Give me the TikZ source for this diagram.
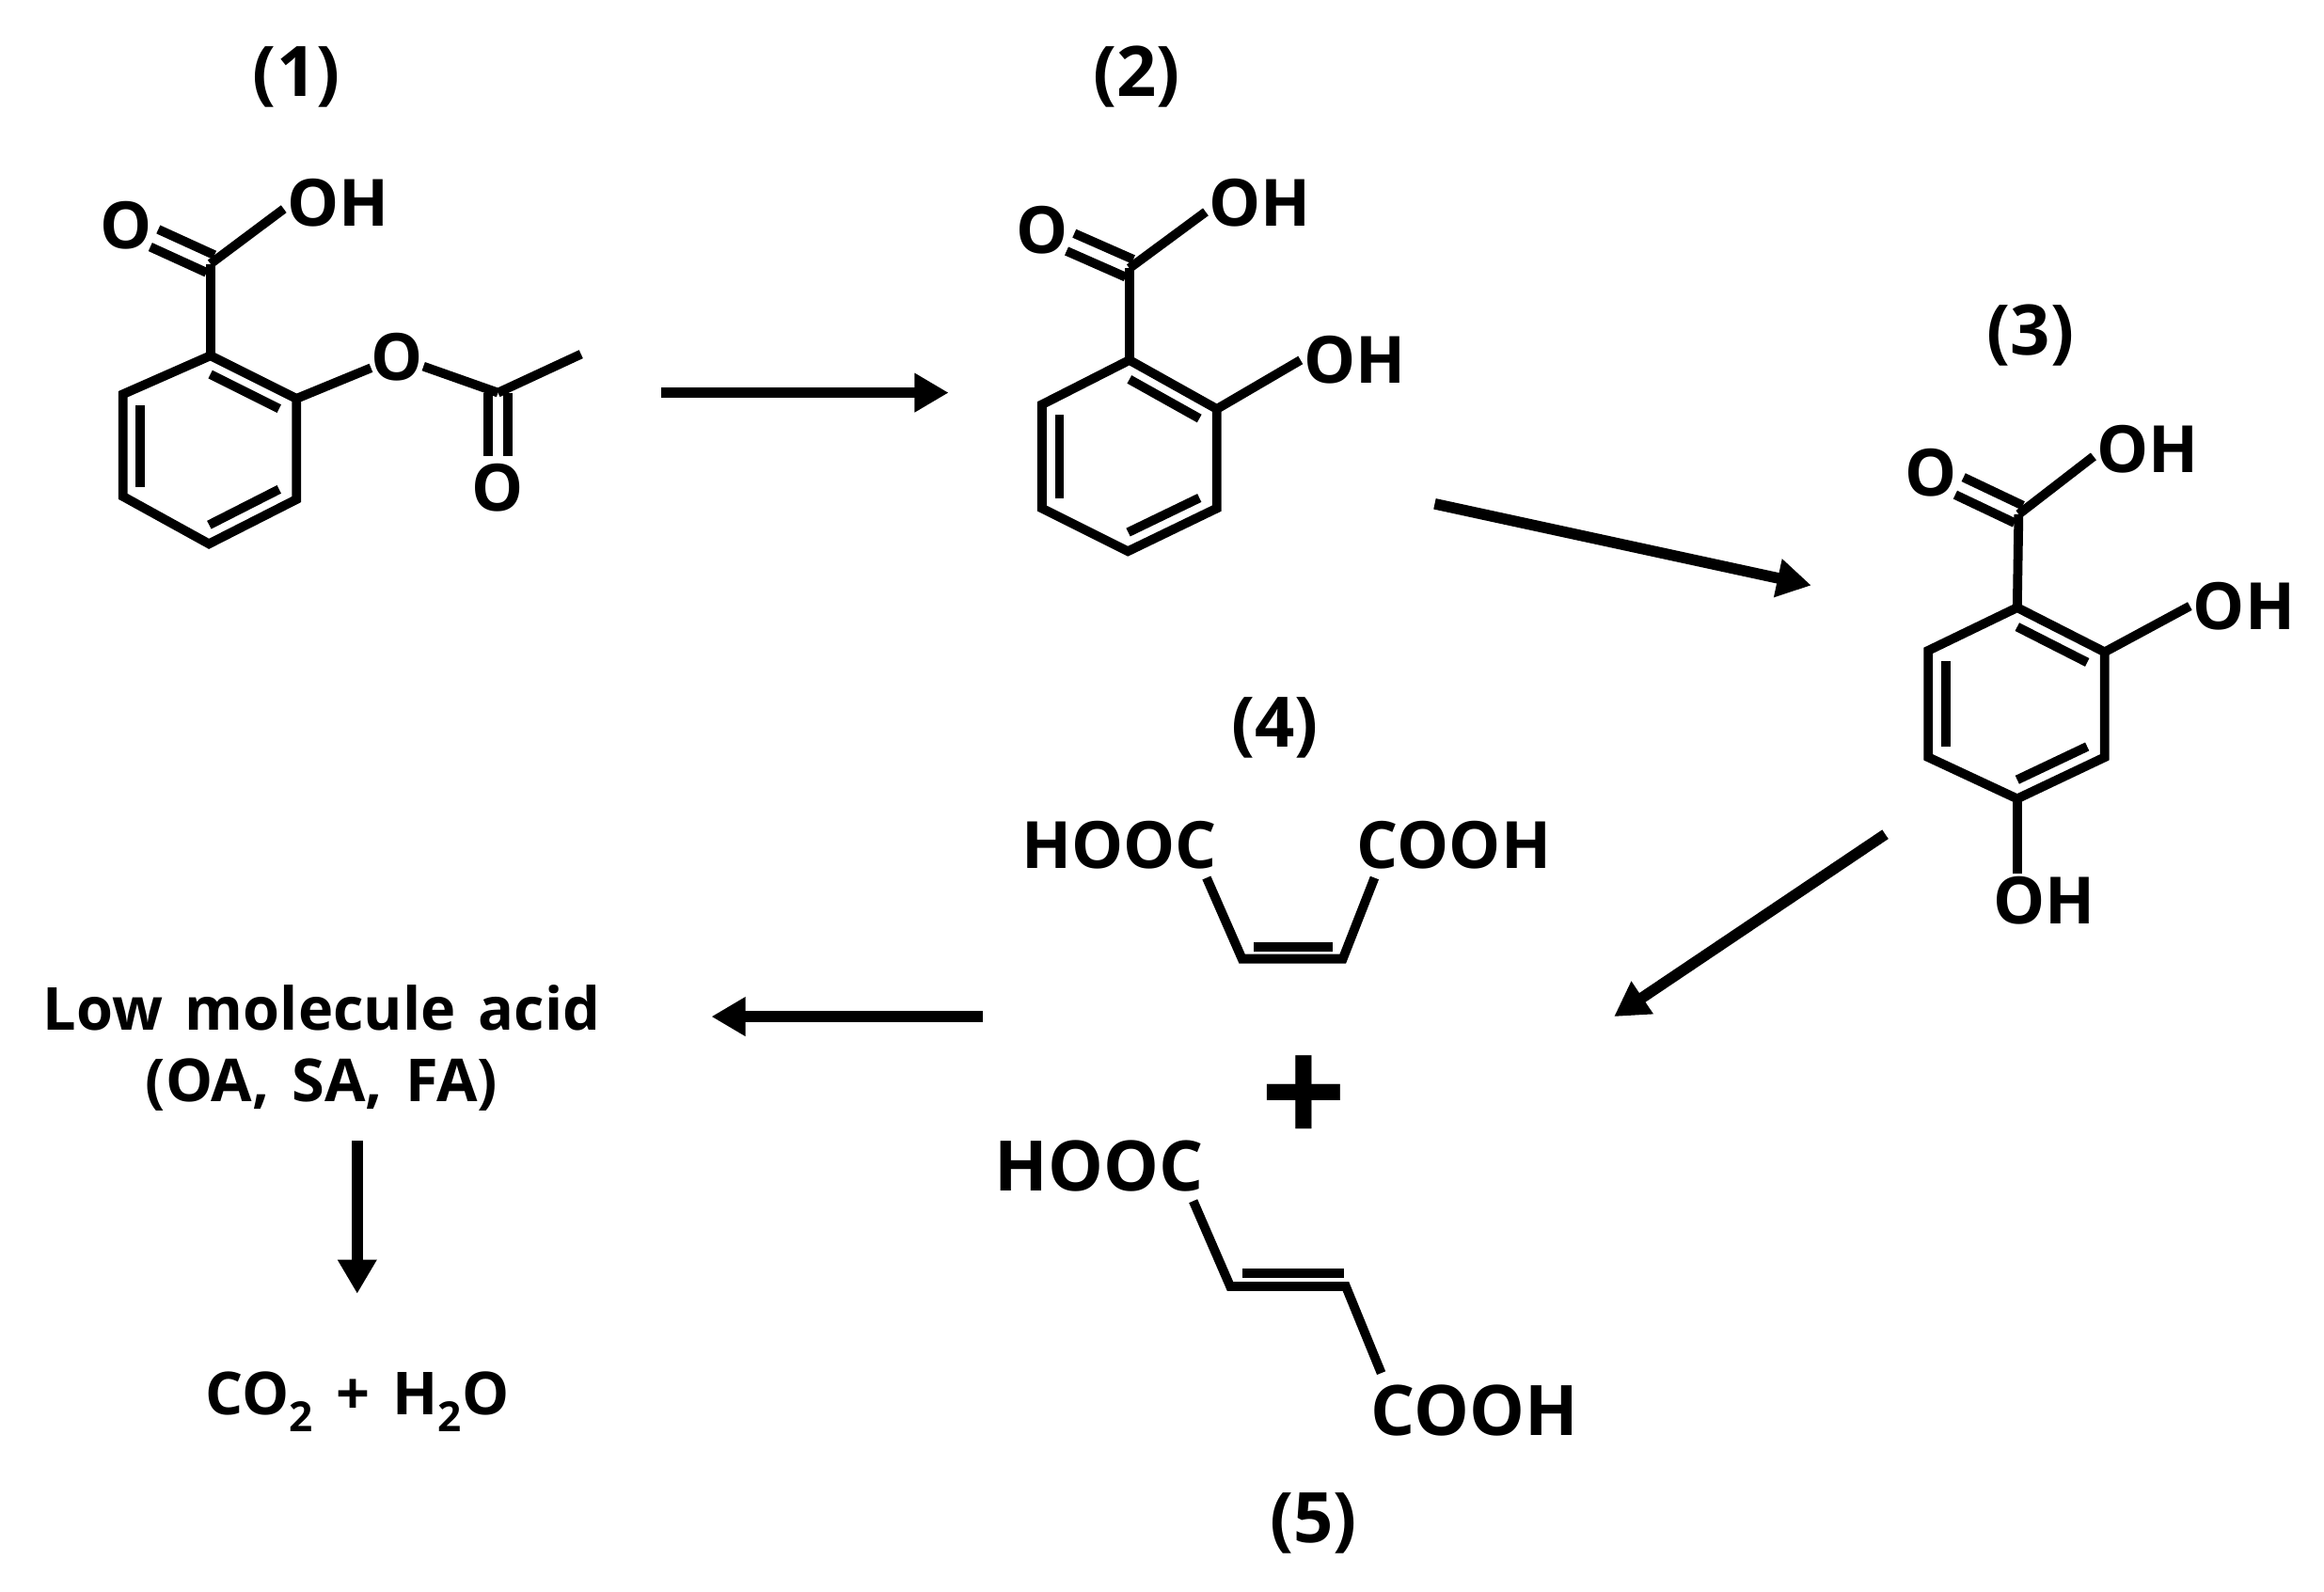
\documentclass[tikz,border=0pt]{standalone}
\usepackage{fontspec}
\setmainfont{Open Sans}
\usetikzlibrary{arrows.meta,calc}

\newcommand{\notefont}{\bfseries\fontsize{40}{40}\selectfont\spaceskip 0.38em\relax}
\tikzset{
  atom/.style = {font=\bfseries\fontsize{44}{44}\selectfont, inner sep=2pt},
  atombig/.style = {font=\bfseries\fontsize{47}{47}\selectfont, inner sep=2pt},
  tag/.style = {font=\bfseries\fontsize{47}{47}\selectfont, inner sep=0pt},
  note/.style = {font=\notefont, inner sep=0pt},
  bond/.style = {line width=6.2pt},
  flow/.style = {line width=7.4pt, -{Triangle[length=23pt,width=25pt]}}
}
% second line of a ring double bond, pulled towards the ring centre
\newcommand{\ringdbl}[3]{\draw[bond] ($(#1)!0.2!(#3)$) -- ($(#2)!0.2!(#3)$);}
% carbonyl: two lines either side of the axis
\newcommand{\oxodbl}[2]{
  \draw[bond, shorten >=21pt] ($(#1)!6.5pt!90:(#2)$) -- ($(#2)!6.5pt!-90:(#1)$);
  \draw[bond, shorten >=21pt] ($(#1)!6.5pt!-90:(#2)$) -- ($(#2)!6.5pt!90:(#1)$);
}

\begin{document}
\begin{tikzpicture}[x=1pt, y=-1pt]
   \useasboundingbox (0,0) rectangle (1568,1074);

   % (1)
   \node[tag] (t_1) at (200,52) {(1)};
   \coordinate (a_1) at (142,240);
   \coordinate (a_2) at (200,269);
   \coordinate (a_3) at (200,337);
   \coordinate (a_4) at (141,367);
   \coordinate (a_5) at (83,335);
   \coordinate (a_6) at (83,266);
   \coordinate (a_c) at (141.5,303);
   \coordinate (a_7) at (142,178);
   \coordinate (a_8) at (336,265);
   \coordinate (a_9) at (392,239);
   \node[atom] (a_o) at (85,152) {O};
   \node[atom] (a_oh) at (228,137) {OH};
   \node[atom, inner sep=0pt] (a_e) at (268,241) {O};
   \node[atom] (a_k) at (336,329) {O};
   \draw[bond, line join=miter] (a_1) -- (a_2) -- (a_3) -- (a_4) -- (a_5) -- (a_6) -- cycle;
   \foreach \u/\v in {a_1/a_2, a_3/a_4, a_5/a_6} {\ringdbl{\u}{\v}{a_c}}
   \draw[bond] (a_1) -- (a_7);
   \draw[bond] (a_7) -- ([yshift=-4pt]a_oh.west);
   \oxodbl{a_7}{a_o}
   \draw[bond] (a_2) -- (a_e);
   \draw[bond] (a_e) -- (a_8);
   \draw[bond] (a_8) -- (a_9);
   \oxodbl{a_8}{a_k}

   % (2)
   \node[tag] (t_2) at (767,52) {(2)};
   \coordinate (b_1) at (762,243);
   \coordinate (b_2) at (821,276);
   \coordinate (b_3) at (821,343);
   \coordinate (b_4) at (761,372);
   \coordinate (b_5) at (703,343);
   \coordinate (b_6) at (703,273);
   \coordinate (b_c) at (762,308);
   \coordinate (b_7) at (762,181);
   \node[atom] (b_o) at (703,155) {O};
   \node[atom] (b_oh) at (850,137) {OH};
   \node[atom] (b_r) at (914,243) {OH};
   \draw[bond, line join=miter] (b_1) -- (b_2) -- (b_3) -- (b_4) -- (b_5) -- (b_6) -- cycle;
   \foreach \u/\v in {b_1/b_2, b_3/b_4, b_5/b_6} {\ringdbl{\u}{\v}{b_c}}
   \draw[bond] (b_1) -- (b_7);
   \draw[bond] (b_7) -- ([yshift=-6pt]b_oh.west);
   \oxodbl{b_7}{b_o}
   \draw[bond] (b_2) -- (b_r.west);

   % (3)
   \node[tag] (t_3) at (1370,226) {(3)};
   \coordinate (c_1) at (1361,410);
   \coordinate (c_2) at (1420,440);
   \coordinate (c_3) at (1420,511);
   \coordinate (c_4) at (1361,539);
   \coordinate (c_5) at (1301,511);
   \coordinate (c_6) at (1301,439);
   \coordinate (c_c) at (1361,475);
   \coordinate (c_7) at (1362,347);
   \node[atom] (c_o) at (1303,319) {O};
   \node[atom] (c_oh) at (1449,303) {OH};
   \node[atom] (c_r) at (1514,409) {OH};
   \node[atom] (c_b) at (1379,608) {OH};
   \draw[bond, line join=miter] (c_1) -- (c_2) -- (c_3) -- (c_4) -- (c_5) -- (c_6) -- cycle;
   \foreach \u/\v in {c_1/c_2, c_3/c_4, c_5/c_6} {\ringdbl{\u}{\v}{c_c}}
   \draw[bond] (c_1) -- (c_7);
   \draw[bond] (c_7) -- ([yshift=-5pt]c_oh.west);
   \oxodbl{c_7}{c_o}
   \draw[bond] (c_2) -- (c_r.west);
   \draw[bond] (c_4) -- (c_4 |- c_b.north);

   % (4)
   \node[tag] (t_4) at (860,491) {(4)};
   \node[atom] (d_l) at (755,570) {HOOC};
   \node[atom] (d_r) at (981,570) {COOH};
   \coordinate (d_1) at (838,647);
   \coordinate (d_2) at (906,647);
   \coordinate (d_3) at (846,639);
   \coordinate (d_4) at (899,639);
   \draw[bond, line join=miter] ([xshift=-9pt,yshift=-4pt]d_l.south east) -- (d_1) -- (d_2) -- ([xshift=14pt,yshift=-4pt]d_r.south west);
   \draw[bond] (d_3) -- (d_4);

   \node[font=\bfseries\fontsize{102}{102}\selectfont, inner sep=0pt] (plus) at (879.5,743) {+};

   % (5)
   \node[atombig] (e_l) at (741.5,787) {HOOC};
   \node[atombig] (e_r) at (995,952) {COOH};
   \coordinate (e_1) at (830,868);
   \coordinate (e_2) at (908,868);
   \coordinate (e_3) at (838,859);
   \coordinate (e_4) at (907,859);
   \draw[bond, line join=miter] ([xshift=-9pt,yshift=-4pt]e_l.south east) -- (e_1) -- (e_2) -- ([xshift=9pt,yshift=6pt]e_r.north west);
   \draw[bond] (e_3) -- (e_4);
   \node[tag] (t_5) at (886,1028) {(5)};

   % products
   \node[note] (acid) at (217,680) {Low molecule acid};
   \node[note] (list) at (217,732) {(OA, SA, FA)};
   \node[note] (co2) at (241,946) {CO\textsubscript{2} + H\textsubscript{2}O};

   % arrows
   \coordinate (p_1) at (446,265);
   \coordinate (q_1) at (640,265);
   \coordinate (p_2) at (968,340);
   \coordinate (q_2) at (1222,395);
   \coordinate (p_3) at (1272,563);
   \coordinate (q_3) at (1089,686);
   \coordinate (p_4) at (663,686);
   \coordinate (q_4) at (480,686);
   \coordinate (p_5) at (241,770);
   \coordinate (q_5) at (241,873);
   \foreach \i in {1,...,5} {\draw[flow] (p_\i) -- (q_\i);}
\end{tikzpicture}
\end{document}
